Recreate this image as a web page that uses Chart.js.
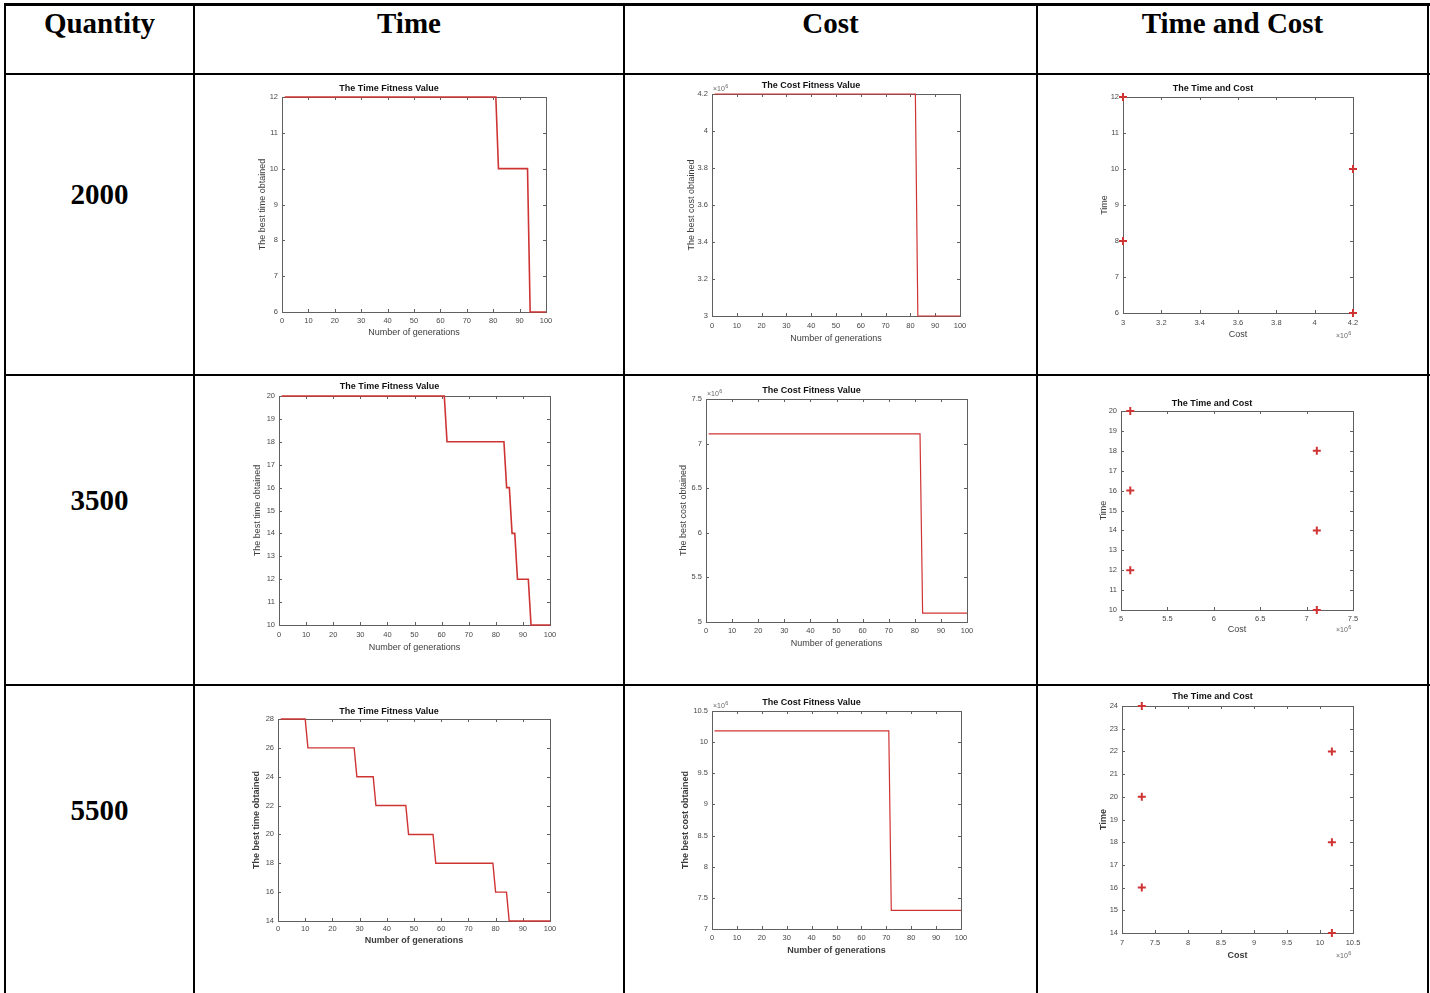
<!DOCTYPE html>
<html>
<head>
<meta charset="utf-8">
<script src="https://cdn.jsdelivr.net/npm/chart.js@4.4.1/dist/chart.umd.min.js"></script>
<style>
  body { margin: 0; background: #fff; }
  #page { position: relative; width: 1430px; height: 993px; overflow: hidden; background: #fff; }
  .ln { position: absolute; background: #000; z-index: 2; }
  .cell { position: absolute; text-align: center; font: bold 29px "Liberation Serif", "Times New Roman", serif; line-height: 29px; color: #000; }
</style>
</head>
<body>
<div id="page">
  <!-- table rules -->
  <div class="ln" style="left:4px;top:3px;width:1426px;height:3px"></div>
  <div class="ln" style="left:4px;top:73px;width:1426px;height:2px"></div>
  <div class="ln" style="left:4px;top:374px;width:1426px;height:2px"></div>
  <div class="ln" style="left:4px;top:684px;width:1426px;height:2px"></div>
  <div class="ln" style="left:4px;top:3px;width:2px;height:990px"></div>
  <div class="ln" style="left:193px;top:3px;width:2px;height:990px"></div>
  <div class="ln" style="left:623px;top:3px;width:2px;height:990px"></div>
  <div class="ln" style="left:1036px;top:3px;width:2px;height:990px"></div>
  <div class="ln" style="left:1427px;top:3px;width:2px;height:990px"></div>

  <div class="cell" style="left:5px;width:189px;top:9px">Quantity</div>
  <div class="cell" style="left:195px;width:428px;top:9px">Time</div>
  <div class="cell" style="left:625px;width:411px;top:9px">Cost</div>
  <div class="cell" style="left:1038px;width:389px;top:9px">Time and Cost</div>

  <div class="cell" style="left:5px;width:189px;top:180px">2000</div>
  <div class="cell" style="left:5px;width:189px;top:486px">3500</div>
  <div class="cell" style="left:5px;width:189px;top:796px">5500</div>
</div>

<script>
// ---- data ----
// quantity 2000
const time2000Gen = [1, 81, 82, 93, 94, 100];
const time2000Val = [12, 12, 10, 10, 6, 6];
const cost2000Gen = [1, 82, 83, 100];
const cost2000Val = [4200000, 4200000, 3000000, 3000000];
const tc2000Cost = [3000000, 3000000, 4200000, 4200000];
const tc2000Time = [12, 8, 10, 6];

// quantity 3500
const time3500Gen = [1, 61, 62, 83, 84, 85, 86, 87, 88, 92, 93, 100];
const time3500Val = [20, 20, 18, 18, 16, 16, 14, 14, 12, 12, 10, 10];
const cost3500Gen = [1, 82, 83, 100];
const cost3500Val = [7110000, 7110000, 5100000, 5100000];
const tc3500Cost = [5100000, 5100000, 5100000, 7110000, 7110000, 7110000];
const tc3500Time = [20, 16, 12, 18, 14, 10];

// quantity 5500
const time5500Gen = [1, 10, 11, 28, 29, 35, 36, 47, 48, 57, 58, 79, 80, 84, 85, 100];
const time5500Val = [28, 28, 26, 26, 24, 24, 22, 22, 20, 20, 18, 18, 16, 16, 14, 14];
const cost5500Gen = [1, 71, 72, 100];
const cost5500Val = [10180000, 10180000, 7300000, 7300000];
const tc5500Cost = [7300000, 7300000, 7300000, 10180000, 10180000, 10180000];
const tc5500Time = [24, 20, 16, 22, 18, 14];

// axis ranges [min, max, step]
const genRange = [0, 100, 10];
const time2000Range = [6, 12, 1];
const time3500Range = [10, 20, 1];
const time5500Range = [14, 28, 2];
const cost2000Range = [3000000, 4200000, 200000];
const cost3500Range = [5000000, 7500000, 500000];
const cost5500Range = [7000000, 10500000, 500000];
const tc3500TimeRange = [10, 20, 1];
const tc5500TimeRange = [14, 24, 1];

// ---- layout helpers ----
const Y_W = 50, X_H = 36, TITLE_H = 24, PAD_R = 20;
const INK = '#484848';
const RED = '#cf3434';
Chart.defaults.font.family = '"Liberation Sans", Arial, sans-serif';

const toPoints = (xs, ys) => xs.map((x, i) => ({ x: x, y: ys[i] }));
const mega = v => String(+(v / 1e6).toFixed(2));

// inward MATLAB-like ticks, box and the x10^6 multiplier
const matlabBox = {
  id: 'matlabBox',
  beforeDatasetsDraw(chart) {
    const { ctx, chartArea: a, scales } = chart;
    ctx.save();
    ctx.strokeStyle = '#606060';
    ctx.lineWidth = 1;
    ctx.beginPath();
    scales.x.ticks.forEach(t => {
      const px = Math.round(scales.x.getPixelForValue(t.value)) + 0.5;
      ctx.moveTo(px, a.bottom); ctx.lineTo(px, a.bottom - 3);
      ctx.moveTo(px, a.top); ctx.lineTo(px, a.top + 3);
    });
    scales.y.ticks.forEach(t => {
      const py = Math.round(scales.y.getPixelForValue(t.value)) + 0.5;
      ctx.moveTo(a.left, py); ctx.lineTo(a.left + 3, py);
      ctx.moveTo(a.right, py); ctx.lineTo(a.right - 3, py);
    });
    ctx.stroke();
    ctx.strokeRect(Math.round(a.left) + 0.5, Math.round(a.top) + 0.5, Math.round(a.width), Math.round(a.height));
    ctx.restore();
  },
  afterDraw(chart, args, opts) {
    if (!opts.exp) return;
    const { ctx, chartArea: a } = chart;
    const x = opts.exp === 'y' ? a.left + 1 : a.right - 17;
    const y = opts.exp === 'y' ? a.top - 3 : a.bottom + opts.dy;
    ctx.save();
    ctx.fillStyle = '#666';
    ctx.textBaseline = 'alphabetic';
    ctx.font = '7px "Liberation Sans", Arial, sans-serif';
    ctx.fillText('\u00d710', x, y);
    const w = ctx.measureText('\u00d710').width;
    ctx.font = '5.5px "Liberation Sans", Arial, sans-serif';
    ctx.fillText('6', x + w + 0.5, y - 3.5);
    ctx.restore();
  }
};

function axis(range, box, pos, horiz, text, bold, fmt) {
  const lh = 10.8;
  return {
    type: 'linear',
    min: range[0], max: range[1],
    afterFit: s => { if (horiz) s.height = X_H; else s.width = Y_W; },
    grid: { display: false, drawTicks: false },
    border: { display: false },
    ticks: {
      stepSize: range[2], autoSkip: false, maxRotation: 0,
      color: INK, font: { size: 7.5 },
      padding: horiz ? pos.tickY - box.b - 4.5 : 4,
      callback: fmt || (v => v)
    },
    title: {
      display: true, text: text, color: '#3c3c3c',
      font: { size: 9, weight: bold ? 'bold' : 'normal', lineHeight: 1.2 },
      padding: horiz
        ? { top: 0, bottom: box.b + X_H - pos.xLabelY - lh / 2 }
        : { top: pos.yLabelX - (box.l - Y_W) - lh / 2, bottom: 0 }
    }
  };
}

function makeChart(box, pos, cfg) {
  const c = document.createElement('canvas');
  const w = box.r - box.l + Y_W + PAD_R;
  const h = box.b - box.t + TITLE_H + X_H;
  c.width = w; c.height = h;
  c.style.cssText = 'position:absolute;z-index:1;left:' + (box.l - Y_W) + 'px;top:' + (box.t - TITLE_H) +
    'px;width:' + w + 'px;height:' + h + 'px';
  document.getElementById('page').appendChild(c);

  const padTop = pos.titleY - (box.t - TITLE_H) - 5.5;
  const scatter = cfg.kind === 'scatter';

  new Chart(c, {
    type: scatter ? 'scatter' : 'line',
    data: {
      datasets: [{
        data: cfg.points,
        borderColor: RED,
        backgroundColor: RED,
        borderWidth: scatter ? 2 : cfg.lw,
        pointRadius: scatter ? 4 : 0,
        pointStyle: 'cross',
        tension: 0,
        fill: false,
        clip: 5
      }]
    },
    options: {
      responsive: false,
      animation: false,
      devicePixelRatio: 1,
      layout: { padding: { right: PAD_R } },
      plugins: {
        legend: { display: false },
        tooltip: { enabled: false },
        title: {
          display: true, text: cfg.title, color: '#111',
          font: { size: 9, weight: 'bold', lineHeight: '11px' },
          padding: { top: padTop, bottom: TITLE_H - 11 - padTop }
        },
        matlabBox: { exp: cfg.exp, dy: pos.expDy || 0 }
      },
      scales: {
        x: axis(cfg.xRange, box, pos, true, cfg.xText, cfg.bold, cfg.xFmt),
        y: axis(cfg.yRange, box, pos, false, cfg.yText, cfg.bold, cfg.yFmt)
      }
    },
    plugins: [matlabBox]
  });
}

// ---- row 2000 ----
makeChart({ l: 282, t: 97, r: 546, b: 312 }, { titleY: 89, tickY: 321, xLabelY: 333, yLabelX: 263 }, {
  kind: 'line', lw: 1.6, title: 'The Time Fitness Value', points: toPoints(time2000Gen, time2000Val),
  xRange: genRange, yRange: time2000Range, xText: 'Number of generations', yText: 'The best time obtained'
});
makeChart({ l: 712, t: 94, r: 960, b: 316 }, { titleY: 86, tickY: 326, xLabelY: 339, yLabelX: 692 }, {
  kind: 'line', lw: 1.2, title: 'The Cost Fitness Value', points: toPoints(cost2000Gen, cost2000Val),
  xRange: genRange, yRange: cost2000Range, xText: 'Number of generations', yText: 'The best cost obtained',
  yFmt: mega, exp: 'y'
});
makeChart({ l: 1123, t: 97, r: 1353, b: 313 }, { titleY: 89, tickY: 323, xLabelY: 335, yLabelX: 1105, expDy: 25 }, {
  kind: 'scatter', title: 'The Time and Cost', points: toPoints(tc2000Cost, tc2000Time),
  xRange: cost2000Range, yRange: time2000Range, xText: 'Cost', yText: 'Time', xFmt: mega, exp: 'x'
});

// ---- row 3500 ----
makeChart({ l: 279, t: 396, r: 550, b: 625 }, { titleY: 387, tickY: 635, xLabelY: 648, yLabelX: 258 }, {
  kind: 'line', lw: 1.6, title: 'The Time Fitness Value', points: toPoints(time3500Gen, time3500Val),
  xRange: genRange, yRange: time3500Range, xText: 'Number of generations', yText: 'The best time obtained'
});
makeChart({ l: 706, t: 399, r: 967, b: 622 }, { titleY: 391, tickY: 631, xLabelY: 644, yLabelX: 684 }, {
  kind: 'line', lw: 1.2, title: 'The Cost Fitness Value', points: toPoints(cost3500Gen, cost3500Val),
  xRange: genRange, yRange: cost3500Range, xText: 'Number of generations', yText: 'The best cost obtained',
  yFmt: mega, exp: 'y'
});
makeChart({ l: 1121, t: 411, r: 1353, b: 610 }, { titleY: 404, tickY: 619, xLabelY: 630, yLabelX: 1104, expDy: 22 }, {
  kind: 'scatter', title: 'The Time and Cost', points: toPoints(tc3500Cost, tc3500Time),
  xRange: cost3500Range, yRange: tc3500TimeRange, xText: 'Cost', yText: 'Time', xFmt: mega, exp: 'x'
});

// ---- row 5500 ----
makeChart({ l: 278, t: 719, r: 550, b: 921 }, { titleY: 712, tickY: 929, xLabelY: 941, yLabelX: 257 }, {
  kind: 'line', lw: 1.4, bold: true, title: 'The Time Fitness Value', points: toPoints(time5500Gen, time5500Val),
  xRange: genRange, yRange: time5500Range, xText: 'Number of generations', yText: 'The best time obtained'
});
makeChart({ l: 712, t: 711, r: 961, b: 929 }, { titleY: 703, tickY: 938, xLabelY: 951, yLabelX: 686 }, {
  kind: 'line', lw: 1.2, bold: true, title: 'The Cost Fitness Value', points: toPoints(cost5500Gen, cost5500Val),
  xRange: genRange, yRange: cost5500Range, xText: 'Number of generations', yText: 'The best cost obtained',
  yFmt: mega, exp: 'y'
});
makeChart({ l: 1122, t: 706, r: 1353, b: 933 }, { titleY: 697, tickY: 943, xLabelY: 956, yLabelX: 1104, expDy: 25 }, {
  kind: 'scatter', bold: true, title: 'The Time and Cost', points: toPoints(tc5500Cost, tc5500Time),
  xRange: cost5500Range, yRange: tc5500TimeRange, xText: 'Cost', yText: 'Time', xFmt: mega, exp: 'x'
});
</script>
</body>
</html>
